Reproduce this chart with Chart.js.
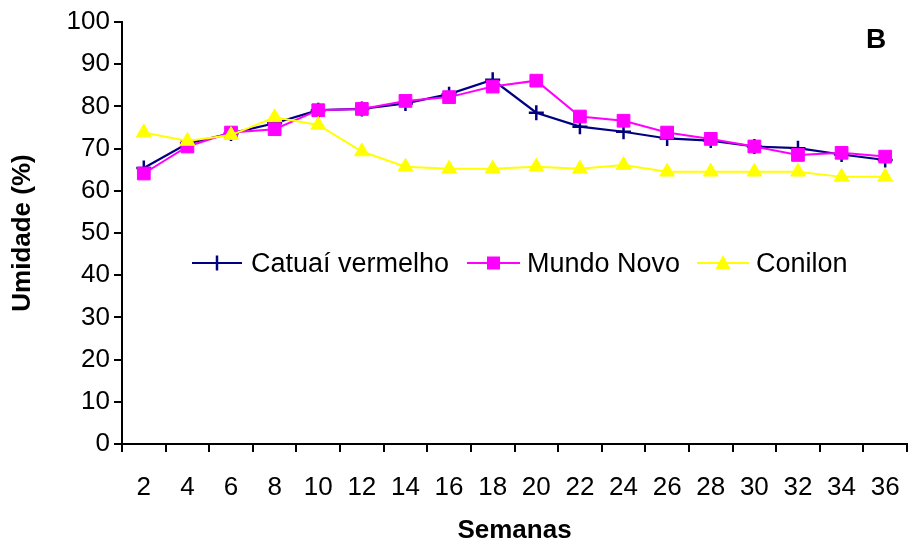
<!DOCTYPE html>
<html>
<head>
<meta charset="utf-8">
<script src="https://cdn.jsdelivr.net/npm/chart.js@4.4.1/dist/chart.umd.min.js"></script>
<style>
  html, body { margin: 0; padding: 0; background: #fff; }
  #wrap { position: relative; width: 912px; height: 548px; }
  canvas { position: absolute; left: 0; top: 0; }
  .lg { position: absolute; font-family: "Liberation Sans", Arial, sans-serif; font-size: 27px; line-height: 27px; color: #000; white-space: nowrap; }
  .sw { position: absolute; }
  #panel { position: absolute; font-family: "Liberation Sans", Arial, sans-serif; font-weight: bold; font-size: 28px; line-height: 28px; color: #000; }
</style>
</head>
<body>
<div id="wrap">
  <canvas id="c" width="912" height="548"></canvas>
  <div id="legend"></div>
  <div id="panel" style="left:866px; top:25px;">B</div>
</div>
<script>
const weeks = ["2","4","6","8","10","12","14","16","18","20","22","24","26","28","30","32","34","36"];
const catuaiVermelho = [65.4, 71.2, 73.6, 76.0, 79.1, 79.4, 80.7, 82.9, 86.3, 78.5, 75.2, 74.0, 72.4, 71.9, 70.5, 70.1, 68.6, 67.3];
const mundoNovo      = [64.1, 70.5, 73.8, 74.6, 79.1, 79.4, 81.3, 82.2, 84.7, 86.1, 77.6, 76.6, 73.8, 72.3, 70.5, 68.5, 69.0, 68.1];
const conilon        = [73.8, 71.8, 73.2, 77.4, 75.6, 69.3, 65.7, 65.2, 65.2, 65.7, 65.2, 66.1, 64.5, 64.5, 64.5, 64.5, 63.3, 63.3];
const seriesNames = ["Catuaí vermelho", "Mundo Novo", "Conilon"];
const yTitle = "Umidade (%)";
const xTitle = "Semanas";

const NAVY = "#000080", MAG = "#FF00FF", YEL = "#FFFF00";
const tickFont = { family: "'Liberation Sans', Arial, sans-serif", size: 26 };
const titleFont = { family: "'Liberation Sans', Arial, sans-serif", size: 26, weight: "bold" };

const chart = new Chart(document.getElementById("c"), {
  type: "line",
  data: {
    labels: weeks,
    datasets: [
      { label: seriesNames[0], data: catuaiVermelho, borderColor: NAVY, backgroundColor: NAVY,
        borderWidth: 2.2, pointStyle: "cross", pointRadius: 7.5, pointBorderWidth: 2.5, pointBorderColor: NAVY, order: 3, tension: 0 },
      { label: seriesNames[1], data: mundoNovo, borderColor: MAG, backgroundColor: MAG,
        borderWidth: 2, pointStyle: "rect", pointRadius: 9, pointBorderWidth: 1, pointBorderColor: MAG, order: 2, tension: 0 },
      { label: seriesNames[2], data: conilon, borderColor: YEL, backgroundColor: YEL,
        borderWidth: 2, pointStyle: "triangle", pointRadius: 8.5, pointBorderWidth: 1, pointBorderColor: YEL, order: 1, tension: 0 }
    ]
  },
  options: {
    responsive: false,
    animation: false,
    devicePixelRatio: 1,
    layout: { padding: { top: 22, right: 5, left: 0, bottom: 0 } },
    plugins: { legend: { display: false }, tooltip: { enabled: false } },
    scales: {
      x: {
        type: "category",
        offset: true,
        grid: { display: true, offset: true, drawOnChartArea: false, drawTicks: true, tickLength: 8, color: "#000", lineWidth: 2 },
        border: { display: true, color: "#000", width: 2 },
        ticks: { color: "#000", font: tickFont, padding: 20, maxRotation: 0, autoSkip: false },
        title: { display: true, text: xTitle, color: "#000", font: titleFont, padding: { top: 0, bottom: 2 } },
        afterFit: s => { s.height = 104; s.paddingLeft = 0; s.paddingRight = 0; }
      },
      y: {
        min: 0, max: 100,
        grid: { display: true, drawOnChartArea: false, drawTicks: true, tickLength: 8, color: "#000", lineWidth: 2 },
        border: { display: true, color: "#000", width: 2 },
        ticks: { color: "#000", font: tickFont, padding: 4, stepSize: 10 },
        title: { display: true, text: yTitle, color: "#000", font: titleFont, padding: { top: 7, bottom: 0 } },
        afterFit: s => { s.width = 122; s.paddingTop = 0; s.paddingBottom = 0; }
      }
    }
  }
});
// points sit in the middle of offset categories, so no edge overflow padding is needed
chart.data.datasets.forEach((d, i) => { chart.getDatasetMeta(i).controller.getMaxOverflow = () => 0; });
chart.update();

// Legend (HTML text with small SVG samples)
const legendItems = [
  { name: seriesNames[0], color: NAVY, line: [192, 242], marker: "cross", textX: 251 },
  { name: seriesNames[1], color: MAG, line: [467, 520], marker: "rect", textX: 527 },
  { name: seriesNames[2], color: YEL, line: [697, 749], marker: "tri", textX: 756 }
];
const cy = 263;
const lg = document.getElementById("legend");
legendItems.forEach(it => {
  const w = it.line[1] - it.line[0];
  const svg = document.createElementNS("http://www.w3.org/2000/svg", "svg");
  svg.setAttribute("width", w); svg.setAttribute("height", 20);
  svg.setAttribute("class", "sw");
  svg.style.left = it.line[0] + "px"; svg.style.top = (cy - 10) + "px";
  const mid = w / 2;
  let inner = `<line x1="0" y1="10" x2="${w}" y2="10" stroke="${it.color}" stroke-width="2"/>`;
  if (it.marker === "cross") inner += `<line x1="${mid}" y1="2.5" x2="${mid}" y2="17.5" stroke="${it.color}" stroke-width="2.5"/>`;
  if (it.marker === "rect") inner += `<rect x="${mid-6.5}" y="3.5" width="13" height="13" fill="${it.color}"/>`;
  if (it.marker === "tri") inner += `<polygon points="${mid},2 ${mid+7.5},16 ${mid-7.5},16" fill="${it.color}"/>`;
  svg.innerHTML = inner;
  lg.appendChild(svg);
  const sp = document.createElement("span");
  sp.className = "lg";
  sp.textContent = it.name;
  sp.style.left = it.textX + "px";
  sp.style.top = (cy - 13) + "px";
  lg.appendChild(sp);
});
</script>
</body>
</html>
